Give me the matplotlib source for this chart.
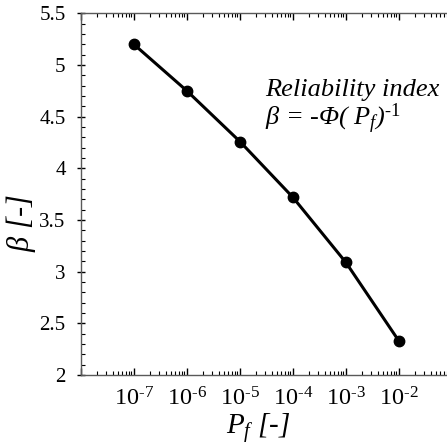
import numpy as np
import matplotlib
matplotlib.use("Agg")
import matplotlib.pyplot as plt
from matplotlib.ticker import LogLocator, MultipleLocator, FixedFormatter, FixedLocator

plt.rcParams["font.family"] = "Liberation Serif"
plt.rcParams["mathtext.fontset"] = "custom"
plt.rcParams["mathtext.rm"] = "Liberation Serif"
plt.rcParams["mathtext.it"] = "Liberation Serif:italic"
plt.rcParams["mathtext.bf"] = "Liberation Serif:bold"

# Data: probability of failure vs reliability index
pf = [1e-7, 1e-6, 1e-5, 1e-4, 1e-3, 1e-2]
beta = [5.20, 4.75, 4.26, 3.72, 3.09, 2.33]
x_ticks = [1e-7, 1e-6, 1e-5, 1e-4, 1e-3, 1e-2]
x_ticklabels = ["$10^{\u20107}$", "$10^{\u20106}$", "$10^{\u20105}$",
                "$10^{\u20104}$", "$10^{\u20103}$", "$10^{\u20102}$"]

fig = plt.figure(figsize=(4.47, 4.45), dpi=100)
ax = fig.add_axes([0.181, 0.157, 0.830, 0.813])

ax.plot(pf, beta, color="black", lw=2.2, marker="o", ms=7.5)

ax.set_xscale("log")
ax.set_xlim(1e-8, 1e-1)
ax.set_ylim(2, 5.5)

ax.xaxis.set_major_locator(FixedLocator(x_ticks + [1e-8, 1e-1]))
ax.xaxis.set_major_formatter(FixedFormatter(x_ticklabels + ["", ""]))
ax.xaxis.set_minor_locator(LogLocator(base=10, subs=np.arange(2, 10), numticks=20))
ax.xaxis.set_minor_formatter(FixedFormatter([]))
ax.yaxis.set_major_locator(MultipleLocator(0.5))
ax.yaxis.set_minor_locator(MultipleLocator(0.1))
ax.yaxis.set_major_formatter(matplotlib.ticker.FormatStrFormatter("%g"))

ax.tick_params(axis="x", which="major", direction="in", length=5, width=1,
               top=True, labelsize=17.5, pad=9)
ax.tick_params(axis="x", which="minor", direction="in", length=3, width=0.8, top=True)
ax.tick_params(axis="y", which="major", direction="inout", length=6, width=1,
               labelsize=15, pad=8)
ax.tick_params(axis="y", which="minor", direction="in", length=3, width=0.8)

for s in ax.spines.values():
    s.set_color("0.35")
    s.set_linewidth(1.0)

ax.set_xlabel(r"$P_f$ [-]", fontsize=21, style="italic")
ax.set_ylabel(r"$\beta$ [-]", fontsize=22, style="italic")
ax.xaxis.set_label_coords(0.477, -0.098)
ax.yaxis.set_label_coords(-0.115, 0.42)

ax.text(0.496, 0.771, "Reliability index", transform=ax.transAxes,
        fontsize=19, style="italic", va="baseline")
ax.text(0.496, 0.69, "\u03b2 = -\u03a6( $P_f$)$^{\\mathit{\u20101}}$", transform=ax.transAxes,
        fontsize=19, style="italic", va="baseline")

fig.savefig("out.png", dpi=100)
